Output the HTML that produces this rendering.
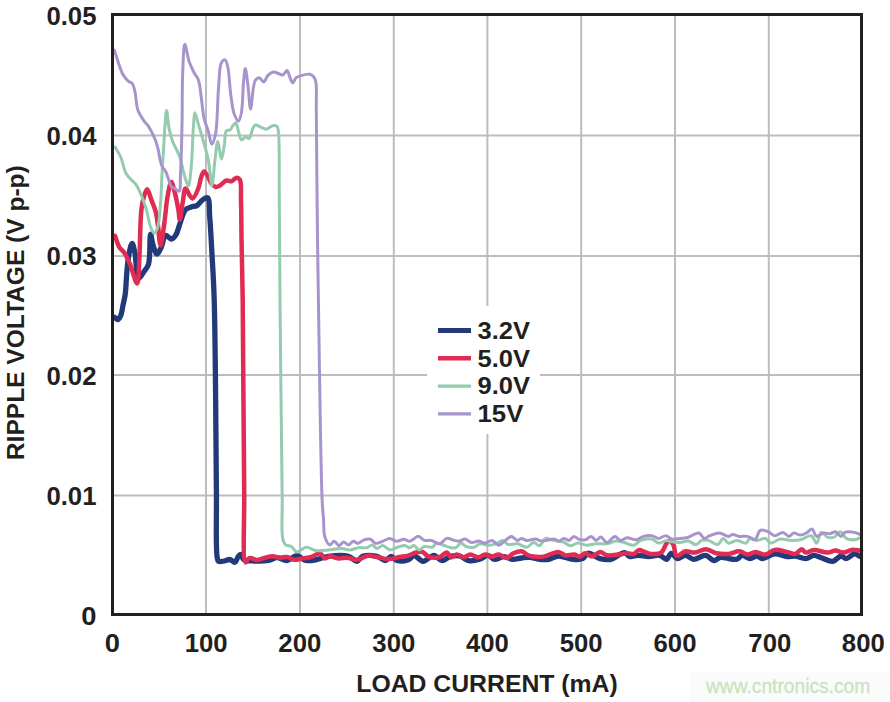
<!DOCTYPE html>
<html><head><meta charset="utf-8"><style>
html,body{margin:0;padding:0;background:#fff;}
body{width:890px;height:702px;overflow:hidden;position:relative;}
svg{position:absolute;left:0;top:0;}
text{font-family:"Liberation Sans",sans-serif;}
</style></head><body>
<svg width="890" height="702" viewBox="0 0 890 702">
<rect x="0" y="0" width="890" height="702" fill="#fff"/>
<rect x="690" y="672" width="200" height="30" fill="#fbfbfb"/>
<g stroke="#bcbdc1" stroke-width="2" fill="none"><line x1="206.0" y1="15" x2="206.0" y2="614" /><line x1="300.0" y1="15" x2="300.0" y2="614" /><line x1="393.8" y1="15" x2="393.8" y2="614" /><line x1="487.4" y1="15" x2="487.4" y2="614" /><line x1="581.2" y1="15" x2="581.2" y2="614" /><line x1="675.0" y1="15" x2="675.0" y2="614" /><line x1="768.8" y1="15" x2="768.8" y2="614" /><line x1="112" y1="135.5" x2="862" y2="135.5" /><line x1="112" y1="256.0" x2="862" y2="256.0" /><line x1="112" y1="375.0" x2="862" y2="375.0" /><line x1="112" y1="495.5" x2="862" y2="495.5" /></g>
<g fill="none" stroke-linejoin="round" stroke-linecap="round">
<path d="M114.6 317.4 C115.7 318.1 116.8 319.8 117.8 319.6 C118.9 319.4 119.9 317.5 120.7 315.7 C121.9 313.0 122.4 308.0 123.2 304.3 C124.0 300.7 124.8 297.6 125.3 293.6 C126.0 288.7 126.0 282.8 126.5 277.0 C127.0 270.6 127.4 263.0 128.5 257.0 C129.4 252.0 130.9 243.5 132.1 243.5 C133.1 243.5 134.0 248.9 134.9 252.8 C136.3 259.2 136.0 277.7 138.5 278.4 C140.0 278.8 142.5 273.7 144.2 271.3 C145.8 269.0 147.4 267.6 148.5 264.2 C150.5 257.8 149.5 234.3 150.6 234.2 C151.2 234.2 151.8 240.9 152.8 244.2 C153.9 247.6 155.5 254.1 157.0 254.2 C158.3 254.3 160.0 249.8 161.3 247.1 C162.9 243.8 163.5 236.1 165.6 235.4 C167.1 234.9 169.6 239.1 171.3 239.0 C172.9 238.9 174.4 237.2 175.6 235.4 C177.4 232.8 178.3 228.1 179.8 224.1 C181.5 219.6 183.0 212.5 185.5 209.8 C187.1 208.0 189.3 207.7 191.2 207.0 C193.1 206.3 195.1 206.6 196.9 205.6 C199.0 204.4 200.6 201.2 202.6 199.9 C204.2 198.8 206.4 197.0 207.6 197.7 C209.9 199.0 209.1 209.5 209.7 216.9 C210.6 227.0 211.2 240.0 211.9 252.8 C212.7 267.4 213.6 278.9 214.2 299.8 C215.5 341.9 215.9 442.8 216.4 490.0 C216.7 518.0 215.6 548.0 217.1 557.0 C217.5 559.3 217.5 560.6 218.5 561.3 C219.7 562.1 222.3 561.3 224.2 561.0 C226.1 560.7 228.1 559.3 229.9 559.5 C231.7 559.7 233.5 562.7 234.9 562.3 C236.5 561.9 237.2 557.3 238.5 556.0 C239.4 555.1 240.5 554.2 241.3 554.5 C242.3 554.8 242.0 558.2 243.5 559.3 C245.6 560.9 250.4 560.8 254.2 561.0 C258.6 561.3 264.3 561.2 268.4 560.5 C271.7 559.9 274.0 557.8 277.0 557.7 C280.2 557.6 283.6 560.8 286.9 560.5 C290.3 560.2 293.7 555.5 296.9 555.6 C299.9 555.7 302.6 559.8 305.7 560.5 C308.8 561.2 312.2 560.4 315.7 559.8 C319.7 559.1 323.7 556.9 328.5 556.3 C334.4 555.5 343.4 554.9 348.5 556.3 C352.1 557.3 354.5 561.5 357.0 561.3 C359.2 561.1 360.1 557.3 362.7 556.3 C366.2 555.0 372.9 555.4 377.0 556.3 C380.3 557.1 383.0 560.7 385.5 560.5 C387.7 560.3 389.3 556.3 391.2 556.3 C393.1 556.3 394.5 559.8 396.9 560.5 C399.9 561.4 405.3 560.9 408.3 559.8 C410.7 558.9 411.8 555.7 414.0 555.6 C416.7 555.5 419.9 561.2 423.1 561.3 C426.5 561.4 430.6 555.2 433.9 555.3 C436.8 555.4 439.3 560.5 442.0 560.7 C444.7 560.9 447.2 557.4 450.1 556.6 C453.0 555.8 456.4 555.4 459.5 556.0 C462.7 556.7 465.6 560.1 468.9 560.7 C472.3 561.3 476.4 560.3 479.7 559.3 C482.7 558.4 485.3 555.2 487.8 555.3 C490.2 555.4 492.0 559.0 494.5 559.3 C497.3 559.7 501.0 556.5 504.0 556.6 C506.8 556.7 509.3 559.0 512.1 559.3 C515.1 559.6 518.5 558.3 521.5 558.0 C524.3 557.7 526.8 557.1 529.6 557.3 C532.7 557.5 536.1 559.0 539.4 559.3 C542.6 559.6 545.8 559.8 548.9 559.3 C552.1 558.8 554.8 556.2 558.3 556.0 C562.6 555.7 568.7 559.0 573.1 559.3 C576.6 559.6 580.0 559.8 582.6 558.6 C584.9 557.6 585.7 553.7 588.0 553.3 C591.1 552.7 596.1 557.6 600.1 558.6 C603.7 559.5 607.2 560.0 610.9 559.3 C615.3 558.4 621.0 552.3 624.4 552.6 C626.7 552.8 627.7 556.1 629.8 556.6 C632.1 557.2 635.0 555.4 637.9 555.3 C641.2 555.2 645.0 556.6 648.6 556.6 C652.3 556.6 656.6 554.6 659.8 555.3 C662.5 555.9 664.7 559.7 666.6 559.3 C668.5 558.9 669.5 553.5 671.3 553.3 C673.1 553.1 675.1 558.2 677.4 558.6 C679.8 559.0 682.7 555.2 685.4 555.3 C688.1 555.4 690.5 559.1 693.5 559.3 C697.1 559.6 702.1 554.8 705.7 555.3 C708.8 555.7 711.2 560.5 713.8 560.7 C716.1 560.8 718.3 557.7 720.5 557.3 C722.3 557.0 723.8 557.7 725.9 558.0 C728.9 558.4 733.8 560.1 736.7 559.3 C739.0 558.7 740.0 555.6 742.1 555.3 C744.5 555.0 747.6 558.6 750.2 558.6 C752.5 558.6 754.8 555.9 756.9 556.0 C758.8 556.1 760.1 558.5 762.3 558.6 C765.6 558.7 770.6 554.2 774.8 553.9 C778.8 553.6 783.3 556.3 787.0 556.6 C790.0 556.8 792.2 555.8 795.1 556.0 C798.4 556.3 802.5 558.8 805.8 558.6 C808.7 558.4 811.2 555.4 813.9 555.3 C816.6 555.2 819.1 557.1 822.0 558.0 C825.3 559.1 829.6 561.8 832.8 561.3 C835.8 560.9 838.4 556.2 840.9 556.0 C842.8 555.9 844.3 558.7 846.3 558.6 C848.8 558.5 851.9 554.0 854.4 553.9 C856.5 553.8 858.4 555.7 860.4 556.6" stroke="#223a7a" stroke-width="5.3"/>
<path d="M115.0 235.7 C116.4 239.5 117.5 244.1 119.3 247.1 C120.7 249.5 122.7 250.5 124.3 252.8 C126.3 255.8 128.1 259.8 130.0 264.2 C132.4 269.7 135.5 283.6 137.1 283.4 C138.8 283.2 138.7 269.0 139.3 259.6 C140.2 246.0 140.0 221.3 141.4 209.8 C142.1 203.6 143.0 199.3 144.2 195.6 C145.0 193.0 146.1 189.2 147.1 189.2 C148.4 189.2 150.0 196.3 151.4 199.9 C152.8 203.6 154.5 207.3 155.6 211.2 C156.7 215.3 157.1 219.3 157.8 224.1 C158.7 230.3 159.5 245.4 160.6 245.4 C161.7 245.4 163.1 231.7 164.2 224.1 C165.5 215.3 166.2 203.3 167.7 195.6 C168.7 190.2 170.0 182.1 171.3 182.1 C172.4 182.1 173.7 188.7 174.8 192.7 C176.1 197.7 177.5 204.8 178.4 209.8 C179.1 213.6 179.2 219.8 179.8 219.8 C180.6 219.8 181.7 208.1 182.7 202.7 C183.6 197.7 184.0 188.8 185.5 188.5 C186.6 188.3 188.4 193.8 189.8 195.6 C190.8 196.8 191.6 198.5 192.6 198.4 C194.3 198.2 196.9 192.0 198.3 188.5 C199.8 184.9 200.1 180.2 201.2 177.1 C202.0 174.8 202.9 171.5 204.0 171.4 C205.2 171.3 207.1 175.1 208.3 177.1 C209.4 179.0 209.7 181.3 211.0 183.0 C212.2 184.6 214.1 186.7 215.7 187.0 C217.1 187.3 218.5 186.3 220.0 185.5 C222.0 184.4 224.3 181.0 226.4 180.5 C228.1 180.1 229.8 181.7 231.4 181.3 C233.2 180.9 234.9 177.8 236.4 177.7 C237.7 177.6 239.0 178.4 239.9 179.8 C241.8 183.0 240.7 192.0 241.0 200.0 C241.4 211.6 241.3 227.5 241.6 242.8 C241.9 260.4 242.4 275.2 242.7 299.8 C243.3 344.7 243.5 441.6 244.2 490.0 C244.6 519.9 242.2 561.3 245.6 562.5 C246.6 562.8 247.5 558.6 249.2 558.0 C251.2 557.3 254.5 560.0 257.0 560.0 C259.4 560.0 261.6 558.6 264.1 558.0 C266.8 557.3 270.0 556.3 272.7 556.3 C275.2 556.3 277.4 557.6 279.8 557.7 C282.2 557.8 284.6 556.7 286.9 557.0 C289.3 557.3 291.6 559.5 294.1 559.8 C296.8 560.1 299.7 558.9 302.6 558.4 C305.5 557.9 308.5 557.8 311.4 557.0 C314.3 556.2 317.7 552.9 320.0 553.4 C322.0 553.8 323.1 558.0 324.9 558.4 C326.5 558.7 328.0 556.5 329.9 556.3 C332.4 556.1 335.6 558.2 338.5 558.4 C341.3 558.6 344.1 557.5 347.0 557.7 C350.2 557.9 353.6 560.0 357.0 559.8 C360.7 559.5 364.8 555.9 368.4 555.6 C371.4 555.3 373.9 556.5 377.0 557.0 C380.5 557.6 384.6 559.1 388.4 559.1 C392.2 559.1 396.3 557.6 399.8 557.0 C402.8 556.5 405.6 556.4 408.3 555.6 C410.8 554.9 413.0 553.3 415.4 552.7 C417.7 552.1 420.3 551.3 422.4 551.9 C424.6 552.5 426.0 555.7 428.5 556.6 C431.5 557.7 436.2 558.1 439.3 557.3 C442.1 556.6 444.6 552.4 446.7 552.6 C448.5 552.8 449.7 557.0 451.4 557.3 C453.1 557.6 454.9 554.7 456.8 554.6 C458.9 554.5 461.3 557.3 463.5 557.3 C465.8 557.3 467.9 554.7 470.3 554.6 C472.9 554.5 475.8 557.4 478.4 557.3 C480.8 557.2 482.8 554.7 485.1 554.6 C487.3 554.5 489.6 556.6 491.9 556.6 C494.1 556.6 496.3 554.5 498.6 554.6 C501.2 554.7 504.2 558.3 506.7 558.0 C509.1 557.7 510.9 554.4 513.4 553.3 C515.9 552.2 519.0 550.8 521.5 551.2 C523.9 551.6 526.1 554.4 528.3 555.3 C530.1 556.1 531.5 556.4 533.6 556.6 C536.4 556.9 539.9 557.2 543.5 556.6 C548.0 555.9 554.4 551.6 558.3 551.9 C561.1 552.1 562.6 554.8 565.1 555.3 C567.9 555.9 571.8 554.2 574.5 554.6 C576.6 554.9 578.1 556.8 579.9 556.6 C581.7 556.4 583.4 553.4 585.3 553.3 C587.4 553.2 589.7 556.7 592.0 556.6 C594.6 556.5 597.5 552.0 600.1 551.9 C602.4 551.8 604.3 554.8 606.9 555.3 C610.0 555.9 614.1 554.9 617.6 554.6 C620.9 554.3 624.2 553.4 627.1 553.3 C629.5 553.2 631.8 554.5 633.8 553.9 C635.8 553.3 637.3 550.2 639.2 549.9 C640.9 549.7 642.7 551.3 644.6 551.9 C646.8 552.6 649.1 553.7 651.7 553.9 C654.6 554.1 658.7 554.3 661.2 552.6 C663.8 550.8 665.0 545.2 666.6 543.1 C667.6 541.8 668.3 540.4 669.3 540.4 C670.5 540.4 672.2 542.6 673.3 544.5 C674.9 547.2 674.5 555.1 676.7 556.0 C678.7 556.8 682.3 551.8 685.4 551.2 C688.4 550.7 691.7 552.9 694.9 552.6 C698.4 552.3 702.1 549.1 705.7 549.2 C709.3 549.3 712.7 552.5 716.5 553.3 C720.4 554.1 724.7 554.3 728.6 553.9 C732.3 553.5 736.1 550.9 739.4 551.2 C742.3 551.4 744.8 554.5 747.5 554.6 C750.2 554.7 752.8 552.0 755.6 551.9 C758.6 551.8 761.9 554.9 765.0 554.6 C768.3 554.3 771.3 550.4 774.8 549.9 C778.6 549.4 783.4 551.2 787.0 551.9 C790.0 552.5 792.6 554.4 795.1 553.9 C797.6 553.4 799.9 549.1 801.8 549.2 C803.3 549.3 804.1 552.3 805.8 552.6 C807.9 553.0 810.8 550.1 813.9 549.9 C817.8 549.7 823.5 552.7 827.4 552.6 C830.5 552.5 832.8 550.6 835.5 550.6 C838.2 550.6 840.9 552.7 843.6 552.6 C846.3 552.5 848.9 550.3 851.7 549.9 C854.7 549.5 858.0 550.4 861.1 550.6" stroke="#e02b52" stroke-width="4.5"/>
<path d="M115.0 147.1 C116.9 150.4 119.0 153.2 120.7 157.0 C122.7 161.5 123.7 168.9 125.7 172.7 C127.0 175.2 128.4 176.6 130.0 178.5 C131.7 180.5 134.0 181.8 135.7 184.2 C137.9 187.2 139.7 191.5 141.4 195.6 C143.3 200.0 144.9 204.8 146.4 209.8 C148.0 215.2 148.9 222.7 150.6 226.9 C151.7 229.6 153.0 233.3 154.2 233.3 C155.4 233.3 156.8 229.8 157.8 226.9 C159.5 221.5 159.9 211.1 160.6 202.7 C161.3 193.6 161.5 183.3 162.0 174.2 C162.5 165.8 163.0 158.0 163.5 150.0 C164.0 142.3 164.3 134.1 164.9 127.1 C165.4 121.1 165.9 110.5 166.6 110.5 C167.3 110.5 168.0 123.1 169.1 128.6 C170.1 133.3 171.1 137.0 172.7 141.4 C174.5 146.4 177.9 151.6 179.8 157.0 C181.7 162.5 182.5 169.0 184.1 174.2 C185.4 178.5 187.2 186.1 188.3 186.0 C189.7 185.9 190.4 174.6 191.2 167.1 C192.3 156.3 192.6 137.1 193.4 127.1 C193.9 121.1 193.9 112.8 194.8 112.7 C195.6 112.6 197.2 120.2 198.4 124.3 C199.8 128.8 201.1 133.3 202.6 138.5 C204.4 144.9 206.8 152.4 208.3 159.9 C209.9 168.0 210.8 185.6 211.9 185.6 C213.0 185.6 213.9 167.8 215.0 159.9 C215.9 153.2 216.7 141.4 217.8 141.4 C218.9 141.4 220.3 159.2 221.4 159.2 C222.4 159.2 223.5 150.3 224.3 145.6 C225.2 140.8 224.5 132.7 226.4 130.7 C227.3 129.7 229.0 130.7 230.0 130.0 C231.2 129.2 231.8 126.9 232.8 125.7 C233.7 124.6 234.9 122.6 235.7 122.8 C236.9 123.1 237.5 128.5 238.5 131.4 C239.4 134.2 239.9 139.4 241.4 139.9 C242.5 140.3 244.2 137.3 245.6 137.1 C246.8 137.0 248.2 139.0 249.2 138.5 C250.9 137.7 251.5 130.9 252.8 128.5 C253.7 126.9 254.4 125.3 255.6 125.0 C256.9 124.7 258.9 126.4 260.6 127.1 C262.4 127.8 264.4 129.3 266.3 129.2 C268.4 129.0 270.7 126.0 272.7 125.7 C274.2 125.4 276.0 125.5 277.0 126.4 C278.0 127.3 278.0 128.7 278.4 131.4 C279.8 141.1 279.0 175.0 279.3 200.0 C279.6 230.2 279.6 261.0 280.0 300.0 C280.5 355.1 281.7 458.6 282.2 499.4 C282.4 517.5 281.1 531.1 282.7 538.5 C283.4 541.6 284.0 543.6 285.5 544.9 C286.9 546.1 289.4 545.3 291.2 546.3 C293.3 547.5 294.6 551.6 296.9 552.0 C299.5 552.4 303.1 547.5 306.3 547.3 C309.4 547.1 312.3 550.1 315.7 550.6 C319.6 551.2 324.2 550.3 328.5 549.9 C332.8 549.5 337.5 548.3 341.3 548.4 C344.5 548.5 347.1 550.0 349.9 549.9 C352.8 549.8 355.5 548.1 358.4 547.7 C361.2 547.3 364.6 548.3 367.0 547.7 C369.0 547.2 370.4 544.8 372.0 544.9 C373.7 545.0 375.2 548.3 377.0 548.4 C378.8 548.5 380.7 545.5 382.7 545.6 C385.0 545.7 387.3 549.6 389.8 549.9 C392.4 550.2 395.6 547.7 398.3 547.0 C400.6 546.4 402.7 545.4 404.7 545.6 C406.5 545.8 408.1 547.7 409.7 547.7 C411.2 547.7 412.6 545.4 414.0 545.6 C415.7 545.8 417.3 549.8 419.0 549.9 C420.7 550.0 422.3 547.0 424.4 546.5 C426.7 545.9 430.4 548.0 432.5 547.2 C434.3 546.5 434.8 543.5 436.6 543.1 C438.7 542.6 441.8 545.0 444.7 545.8 C448.0 546.7 452.6 548.7 455.4 547.9 C457.7 547.3 458.9 543.3 460.8 543.1 C462.5 543.0 464.1 545.8 466.2 546.5 C468.5 547.3 472.0 547.8 474.3 547.2 C476.4 546.7 477.5 544.3 479.7 543.8 C482.3 543.2 486.3 545.3 489.2 545.2 C491.6 545.1 493.7 544.6 495.9 543.8 C498.2 543.0 500.5 540.2 502.6 540.4 C504.6 540.6 505.8 543.8 508.0 544.5 C510.6 545.3 514.4 543.4 517.5 543.8 C520.7 544.2 524.1 547.6 526.9 547.2 C529.4 546.9 531.4 542.6 533.6 542.5 C535.6 542.4 537.6 546.1 539.4 545.8 C541.6 545.4 543.1 539.2 545.5 538.4 C547.7 537.7 550.3 539.9 552.9 540.4 C555.9 541.0 559.4 540.9 562.4 541.8 C565.3 542.7 567.7 545.6 570.4 545.8 C572.9 545.9 575.3 543.2 577.9 543.1 C580.7 542.9 583.6 545.1 586.6 545.2 C589.7 545.3 592.8 544.0 596.1 543.8 C599.6 543.5 603.5 544.3 606.9 543.8 C610.2 543.3 613.3 541.3 616.3 541.1 C619.1 540.9 621.6 541.9 624.4 542.5 C627.4 543.2 631.0 545.7 633.8 545.2 C636.4 544.8 637.9 541.4 640.6 540.4 C643.7 539.2 648.5 538.4 651.7 539.1 C654.4 539.7 656.1 542.8 658.5 543.1 C661.0 543.4 664.2 540.5 666.6 540.4 C668.6 540.3 670.0 541.5 672.0 541.8 C674.4 542.2 677.4 542.6 680.1 542.5 C682.8 542.4 685.5 540.8 688.1 541.1 C690.8 541.4 693.8 544.8 696.2 544.5 C698.3 544.2 699.6 541.1 701.6 540.4 C703.6 539.7 706.0 539.9 708.4 540.4 C711.3 541.0 715.3 545.1 717.8 544.5 C720.1 544.0 721.3 538.5 723.2 538.4 C724.9 538.3 726.5 542.7 728.6 543.1 C730.9 543.6 733.9 540.5 736.7 540.4 C739.7 540.3 743.8 543.9 746.1 543.1 C748.0 542.5 748.4 538.3 750.2 537.8 C752.0 537.3 754.5 540.2 756.9 540.4 C759.5 540.6 763.0 537.8 765.4 538.4 C767.6 538.9 768.6 542.8 770.8 543.1 C773.4 543.5 776.9 539.6 780.2 539.1 C783.6 538.6 787.5 540.3 791.0 540.4 C794.2 540.5 797.2 540.5 800.4 539.8 C803.9 539.0 808.4 534.9 811.2 535.7 C813.7 536.4 815.0 543.3 816.6 543.1 C818.4 542.9 819.2 532.9 821.3 532.4 C823.0 532.0 825.2 536.3 827.4 537.1 C829.5 537.8 832.1 537.9 834.2 537.1 C836.4 536.2 838.2 531.6 840.2 531.7 C842.3 531.8 843.9 537.1 846.3 538.4 C848.6 539.7 852.0 540.0 854.4 539.8 C856.4 539.6 858.0 538.5 859.8 537.8" stroke="#94cbae" stroke-width="3"/>
<path d="M114.3 50.0 C117.1 58.1 119.7 68.7 122.8 74.2 C124.6 77.5 126.7 79.7 128.5 81.3 C129.7 82.4 131.1 82.2 132.1 83.4 C133.5 85.1 134.1 88.1 134.9 91.3 C136.1 96.1 136.0 104.5 137.8 109.8 C139.3 114.2 142.2 118.3 144.2 121.2 C145.5 123.1 146.8 123.9 148.0 125.7 C149.5 127.9 151.2 131.0 152.5 133.7 C153.8 136.3 154.9 138.9 155.9 141.6 C156.8 144.2 157.5 146.8 158.2 149.6 C158.9 152.5 159.2 155.8 159.9 158.7 C160.6 161.5 161.1 164.5 162.2 166.7 C163.1 168.5 164.6 169.5 165.6 171.3 C166.8 173.5 167.5 176.6 168.5 179.2 C169.4 181.7 169.9 185.0 171.3 186.6 C172.4 187.9 174.0 188.1 175.3 188.9 C176.6 189.7 178.4 191.7 179.3 191.2 C180.9 190.3 180.1 182.7 180.4 176.9 C180.9 168.0 181.3 153.0 181.6 142.8 C181.8 134.4 181.9 129.0 182.1 120.0 C182.3 107.1 182.1 86.6 182.7 72.8 C183.2 62.1 183.5 44.4 184.8 44.3 C185.8 44.2 187.4 56.3 189.1 61.4 C190.6 65.7 192.4 69.5 194.1 72.8 C195.5 75.5 197.3 76.9 198.4 79.9 C200.0 84.3 200.3 91.0 201.2 97.0 C202.2 103.7 202.7 112.2 204.1 118.4 C205.2 123.3 207.0 127.1 208.3 131.4 C209.6 135.7 210.6 144.2 211.9 144.2 C213.0 144.2 214.5 138.9 215.5 134.3 C217.6 124.5 217.4 100.1 218.6 87.0 C219.5 77.6 219.2 66.8 221.4 62.8 C222.4 61.1 224.0 59.6 225.0 59.9 C226.3 60.2 227.0 63.8 227.8 67.0 C229.3 73.1 229.5 85.8 230.7 94.1 C231.7 101.3 232.4 109.2 234.2 114.1 C235.4 117.2 237.3 121.3 238.5 121.2 C239.7 121.1 240.6 116.5 241.4 112.7 C242.8 105.8 242.7 90.8 243.5 82.7 C244.1 77.1 244.6 68.5 245.3 68.5 C246.0 68.5 247.0 78.4 247.8 84.2 C248.8 91.5 249.6 109.1 250.6 109.1 C251.5 109.1 252.4 92.3 253.5 87.0 C254.1 83.9 254.4 81.5 255.6 79.9 C256.5 78.7 258.0 77.6 259.2 77.7 C260.7 77.8 262.5 82.2 263.9 82.0 C265.4 81.8 266.1 77.3 267.7 75.6 C269.3 74.0 271.5 72.3 273.4 72.0 C275.1 71.8 276.8 73.0 278.4 73.5 C279.9 74.0 281.4 75.2 282.7 74.9 C284.3 74.5 285.8 70.4 287.0 70.6 C288.2 70.8 288.8 74.9 289.8 77.0 C290.7 79.0 291.6 82.6 292.7 82.7 C293.8 82.8 294.7 78.9 296.2 77.7 C297.6 76.6 299.3 76.2 301.2 75.6 C303.6 74.9 307.6 73.8 309.8 74.2 C311.4 74.5 312.5 75.4 313.5 76.5 C314.6 77.8 315.3 79.4 315.8 82.0 C317.0 87.7 316.1 97.8 316.3 110.0 C316.6 133.1 316.8 177.5 317.2 210.0 C317.5 240.8 317.8 264.1 318.4 300.0 C319.3 353.4 320.7 468.0 322.1 499.4 C322.5 509.1 323.0 512.2 323.5 518.5 C324.0 524.7 323.3 532.3 324.9 537.0 C326.0 540.4 328.1 544.6 329.9 544.9 C331.3 545.1 332.7 541.3 334.2 541.3 C335.8 541.3 337.6 545.6 339.2 545.6 C340.7 545.6 342.0 542.1 343.5 542.0 C345.1 541.9 346.9 545.0 348.5 544.9 C350.2 544.8 351.8 541.4 353.4 541.3 C354.8 541.2 356.1 543.4 357.7 543.4 C359.6 543.4 361.9 540.6 364.1 539.9 C366.2 539.2 368.6 538.6 370.5 539.2 C372.4 539.8 373.6 543.0 375.5 543.4 C377.6 543.8 380.3 542.1 382.7 541.3 C385.1 540.5 387.4 538.5 389.8 538.5 C392.2 538.5 394.5 541.2 396.9 541.3 C399.2 541.4 401.8 539.1 404.0 539.2 C406.0 539.3 407.7 541.5 409.7 541.3 C412.3 541.1 415.7 536.2 418.3 536.3 C420.5 536.4 422.2 539.7 424.4 540.4 C426.5 541.0 428.8 540.0 431.2 540.4 C434.0 540.9 437.4 544.2 440.0 543.8 C442.5 543.4 444.3 538.9 446.7 538.4 C449.0 537.9 451.8 539.9 454.1 540.4 C456.0 540.8 457.7 541.3 459.5 541.1 C461.3 540.9 463.0 539.0 464.9 539.1 C467.0 539.2 469.3 542.2 471.6 542.5 C473.8 542.8 476.2 541.0 478.4 541.1 C480.7 541.2 482.9 543.2 485.1 543.1 C487.4 543.0 489.7 540.1 491.9 540.4 C494.2 540.7 496.4 545.2 498.6 545.2 C500.8 545.2 503.1 541.9 505.3 540.4 C507.4 539.0 509.4 536.4 511.4 536.4 C513.4 536.4 515.7 540.3 517.5 540.4 C518.9 540.5 520.0 538.5 521.5 538.4 C523.1 538.3 524.9 540.2 526.9 540.4 C529.4 540.7 532.8 538.9 535.4 539.1 C537.8 539.3 539.5 540.9 542.1 541.1 C545.5 541.3 551.2 538.7 554.3 539.1 C556.3 539.3 557.5 541.2 559.0 541.1 C560.6 541.0 562.0 538.5 563.7 538.4 C565.4 538.3 567.4 540.7 569.1 540.4 C570.8 540.1 572.2 536.5 573.8 536.4 C575.3 536.3 576.7 538.5 578.5 539.1 C580.5 539.7 583.2 540.2 585.3 539.8 C587.4 539.4 589.5 536.2 591.3 536.4 C593.0 536.6 594.5 540.3 596.1 540.4 C597.7 540.5 599.2 537.0 600.8 537.1 C602.7 537.2 604.7 542.4 606.9 542.5 C609.4 542.6 612.5 536.4 614.9 536.4 C616.9 536.4 618.3 540.1 620.3 540.4 C622.4 540.7 624.6 538.0 627.1 537.8 C630.0 537.6 633.7 540.2 636.5 539.8 C639.0 539.5 640.8 537.1 643.3 536.4 C645.9 535.7 649.1 535.3 651.7 535.7 C654.1 536.1 656.2 538.4 658.5 538.4 C660.9 538.4 663.6 535.5 665.9 535.7 C668.1 535.9 669.7 538.6 672.0 539.1 C674.4 539.6 677.5 538.6 680.1 538.4 C682.4 538.2 684.3 538.4 686.8 537.8 C690.3 537.0 695.8 532.4 698.9 533.0 C701.3 533.5 702.4 538.1 704.3 538.4 C706.0 538.7 707.6 536.5 709.7 535.7 C712.4 534.7 716.1 532.9 719.2 533.0 C722.4 533.1 726.1 536.5 728.6 536.4 C730.2 536.3 731.1 534.5 732.6 534.4 C734.5 534.2 737.0 536.1 739.4 536.4 C742.0 536.8 744.9 535.8 747.5 536.4 C750.1 537.0 752.9 540.5 754.9 539.8 C757.3 539.0 757.8 531.5 760.3 530.3 C762.4 529.3 765.7 530.8 768.1 531.7 C770.5 532.6 772.4 535.5 774.8 535.7 C777.3 535.9 780.4 532.2 782.9 532.4 C785.1 532.6 787.1 536.4 789.0 536.4 C790.7 536.4 791.9 533.3 793.7 533.0 C795.7 532.7 798.2 535.2 800.4 535.1 C802.7 535.0 805.2 533.5 807.2 532.4 C809.0 531.4 810.5 528.7 811.9 529.0 C813.7 529.3 814.6 535.8 816.6 536.4 C818.5 536.9 821.1 533.4 823.4 533.0 C825.6 532.6 828.0 534.0 830.1 533.7 C832.0 533.5 833.8 531.4 835.5 531.7 C837.4 532.0 839.3 536.5 840.9 536.4 C842.4 536.3 843.1 533.2 844.9 532.4 C847.3 531.4 851.7 531.9 854.4 532.4 C856.5 532.8 858.0 533.7 859.8 534.4" stroke="#a894cc" stroke-width="3"/>
</g>
<rect x="112.5" y="14.5" width="749" height="600" fill="none" stroke="#231f20" stroke-width="3"/>
<g fill="#231f20" font-weight="bold" font-size="25"><text x="96.5" y="25.0" text-anchor="end" textLength="50.1" lengthAdjust="spacingAndGlyphs">0.05</text><text x="96.5" y="145.0" text-anchor="end" textLength="50.1" lengthAdjust="spacingAndGlyphs">0.04</text><text x="96.5" y="265.0" text-anchor="end" textLength="50.1" lengthAdjust="spacingAndGlyphs">0.03</text><text x="96.5" y="385.0" text-anchor="end" textLength="50.1" lengthAdjust="spacingAndGlyphs">0.02</text><text x="96.5" y="505.0" text-anchor="end" textLength="50.1" lengthAdjust="spacingAndGlyphs">0.01</text><text x="96.5" y="625.0" text-anchor="end" textLength="15.2" lengthAdjust="spacingAndGlyphs">0</text><text x="112.3" y="651.8" text-anchor="middle" textLength="15.2" lengthAdjust="spacingAndGlyphs">0</text><text x="206.2" y="651.8" text-anchor="middle" textLength="42.9" lengthAdjust="spacingAndGlyphs">100</text><text x="299.8" y="651.8" text-anchor="middle" textLength="42.9" lengthAdjust="spacingAndGlyphs">200</text><text x="393.8" y="651.8" text-anchor="middle" textLength="42.9" lengthAdjust="spacingAndGlyphs">300</text><text x="487.4" y="651.8" text-anchor="middle" textLength="42.9" lengthAdjust="spacingAndGlyphs">400</text><text x="581.2" y="651.8" text-anchor="middle" textLength="42.9" lengthAdjust="spacingAndGlyphs">500</text><text x="675.0" y="651.8" text-anchor="middle" textLength="42.9" lengthAdjust="spacingAndGlyphs">600</text><text x="769.8" y="651.8" text-anchor="middle" textLength="42.9" lengthAdjust="spacingAndGlyphs">700</text><text x="863.3" y="651.8" text-anchor="middle" textLength="42.9" lengthAdjust="spacingAndGlyphs">800</text></g>
<g fill="#231f20" font-weight="bold" font-size="24">
<text x="487" y="692" text-anchor="middle" textLength="261.4" lengthAdjust="spacingAndGlyphs">LOAD CURRENT (mA)</text>
<text transform="translate(24.4,312.7) rotate(-90)" text-anchor="middle" textLength="294.9" lengthAdjust="spacingAndGlyphs">RIPPLE VOLTAGE (V p-p)</text>
</g>
<rect x="427" y="306" width="113" height="128" fill="#fff"/>
<g stroke-width="5">
<line x1="438" y1="330.5" x2="471" y2="330.5" stroke="#223a7a"/>
<line x1="438" y1="358.3" x2="471" y2="358.3" stroke="#e02b52" stroke-width="4.5"/>
<line x1="438" y1="386.1" x2="471" y2="386.1" stroke="#94cbae" stroke-width="3.2"/>
<line x1="438" y1="413.8" x2="471" y2="413.8" stroke="#a894cc" stroke-width="3.2"/>
</g>
<g fill="#231f20" font-weight="bold" font-size="24">
<text x="477.5" y="339.3" textLength="52.5" lengthAdjust="spacingAndGlyphs">3.2V</text>
<text x="477.5" y="366.7" textLength="52.5" lengthAdjust="spacingAndGlyphs">5.0V</text>
<text x="477.5" y="394.1" textLength="52.5" lengthAdjust="spacingAndGlyphs">9.0V</text>
<text x="477.5" y="421.5" textLength="45.9" lengthAdjust="spacingAndGlyphs">15V</text>
</g>
<text x="706" y="693.1" font-size="19.4" fill="#c6e5bf" stroke="#c6e5bf" stroke-width="0.3" textLength="164.2" lengthAdjust="spacingAndGlyphs">www.cntronics.com</text>
</svg>
</body></html>
